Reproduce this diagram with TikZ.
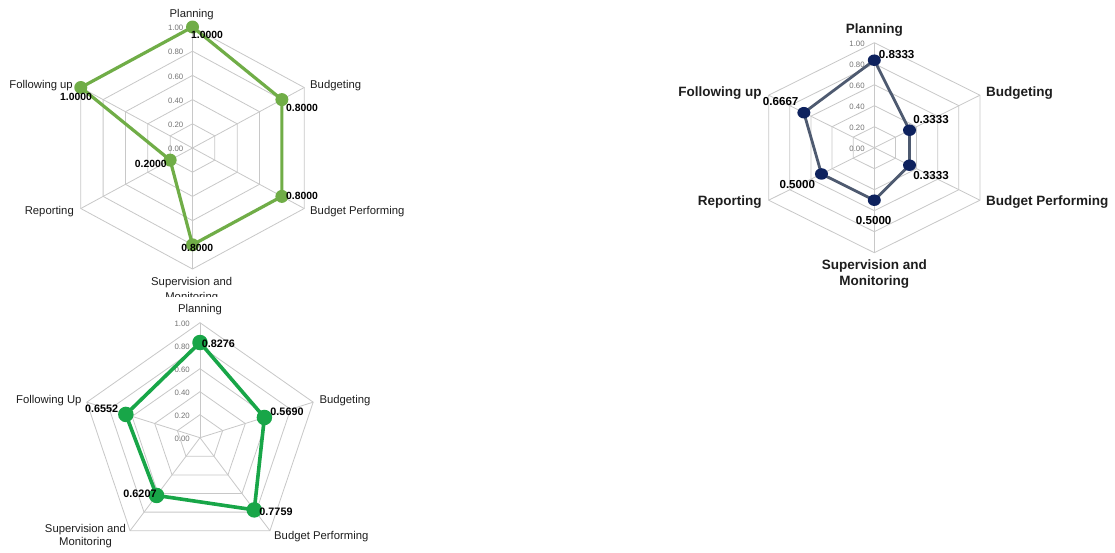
\documentclass[tikz,border=0pt]{standalone}
\usepackage{fontspec}
\setmainfont{Liberation Sans}
\usetikzlibrary{shapes.geometric}
\definecolor{gridgray}{RGB}{200,200,200}
\definecolor{tickgray}{RGB}{115,115,115}
\definecolor{txt}{RGB}{30,30,30}
\definecolor{greenA}{RGB}{112,173,71}
\definecolor{navyB}{RGB}{14,34,94}
\definecolor{slateB}{RGB}{78,90,112}
\definecolor{greenC}{RGB}{24,166,72}
\newcommand\radargrid[5]{%
  \foreach \rr in {0.2,0.4,0.6,0.8,1.0}{%
    \draw[gridline] ({#1+#3*\rr*cos(90)},{#2-#4*\rr*sin(90)})
      \foreach \kk in {1,...,#5}{ -- ({#1+#3*\rr*cos(90-\kk*360/#5)},{#2-#4*\rr*sin(90-\kk*360/#5)}) } -- cycle;
  }%
  \foreach \kk in {1,...,#5}{%
    \draw[gridline] (#1,#2) -- ({#1+#3*cos(90-\kk*360/#5)},{#2-#4*sin(90-\kk*360/#5)});
  }%
}
\newcommand\radarticks[4]{% cx cy ry xoffset
  \foreach \vv/\tt [count=\ii] in {0/0.00,0.2/0.20,0.4/0.40,0.6/0.60,0.8/0.80,1/1.00}{%
    \node[ticklab] (tk#1-\ii) at ({#1-#4},{#2-#3*\vv+1}) {\tt};
  }%
}
\begin{document}
\begin{tikzpicture}[x=1pt,y=-1pt,
  gridline/.style={draw=gridgray,line width=0.8pt},
  ticklab/.style={anchor=east,inner sep=0pt,text=tickgray,font=\fontsize{7.8}{9}\selectfont},
  lab/.style={inner sep=0pt,text=txt,font=\fontsize{11.3}{13}\selectfont},
  labB/.style={inner sep=0pt,text=txt,font=\fontsize{13.5}{16}\selectfont\bfseries},
  valA/.style={inner sep=0pt,text=black,font=\fontsize{10.4}{12}\selectfont\bfseries},
  valB/.style={inner sep=0pt,text=black,font=\fontsize{11.6}{13}\selectfont\bfseries},
  valC/.style={inner sep=0pt,text=black,font=\fontsize{10.8}{12}\selectfont\bfseries},
  lineA/.style={draw=greenA,line width=3.2pt,line join=round},
  lineB/.style={draw=slateB,line width=2.8pt,line join=round},
  lineC/.style={draw=greenC,line width=3.6pt,line join=round},
  dotA/.style={circle,fill=greenA,inner sep=0pt,minimum size=13pt},
  dotB/.style={ellipse,fill=navyB,inner sep=0pt,minimum width=13pt,minimum height=11.5pt},
  dotC/.style={circle,fill=greenC,inner sep=0pt,minimum size=15.5pt}]
\useasboundingbox[fill=white] (0,0) rectangle (1115,552);

% ===================== Chart A (top left, hexagon) =====================
\def\cx{192.5}\def\cy{148}\def\rx{129}\def\ry{121}
\radargrid{\cx}{\cy}{\rx}{\ry}{6}
\radarticks{192.5}{148}{121}{9}
\coordinate (pA1) at ({\cx+\rx*1.0*cos(90)},{\cy-\ry*1.0*sin(90)});
\coordinate (pA2) at ({\cx+\rx*0.8*cos(30)},{\cy-\ry*0.8*sin(30)});
\coordinate (pA3) at ({\cx+\rx*0.8*cos(-30)},{\cy-\ry*0.8*sin(-30)});
\coordinate (pA4) at ({\cx+\rx*0.8*cos(-90)},{\cy-\ry*0.8*sin(-90)});
\coordinate (pA5) at ({\cx+\rx*0.2*cos(-150)},{\cy-\ry*0.2*sin(-150)});
\coordinate (pA6) at ({\cx+\rx*1.0*cos(150)},{\cy-\ry*1.0*sin(150)});
\draw[lineA] (pA1) -- (pA2) -- (pA3) -- (pA4) -- (pA5) -- (pA6) -- cycle;
\foreach \i in {1,...,6}{\node[dotA] (dA\i) at (pA\i) {};}
\node[lab] (lA1) at (191.7,15) {Planning};
\node[lab,anchor=west] (lA2) at (310,86) {Budgeting};
\node[lab,anchor=west] (lA3) at (310,212) {Budget Performing};
\node[lab] (lA4) at (191.7,283) {Supervision and};
\begin{scope}
  \clip (0,250) rectangle (400,296);
  \node[lab] (lA4b) at (191.7,297.4) {Monitoring};
\end{scope}
\node[lab,anchor=east] (lA5) at (74,212) {Reporting};
\node[lab,anchor=east] (lA6) at (73,86) {Following up};
\node[valA] (vA1) at (207,35) {1.0000};
\node[valA] (vA2) at (302,108.3) {0.8000};
\node[valA] (vA3) at (302,196) {0.8000};
\node[valA] (vA4) at (197.3,248) {0.8000};
\node[valA] (vA5) at (150.8,164) {0.2000};
\node[valA] (vA6) at (76,97) {1.0000};

% ===================== Chart B (top right, hexagon) =====================
\def\cx{874.3}\def\cy{147.7}\def\rx{122}\def\ry{105}
\radargrid{\cx}{\cy}{\rx}{\ry}{6}
\radarticks{874.3}{147.7}{105}{9.5}
\coordinate (pB1) at ({\cx+\rx*0.8333*cos(90)},{\cy-\ry*0.8333*sin(90)});
\coordinate (pB2) at ({\cx+\rx*0.3333*cos(30)},{\cy-\ry*0.3333*sin(30)});
\coordinate (pB3) at ({\cx+\rx*0.3333*cos(-30)},{\cy-\ry*0.3333*sin(-30)});
\coordinate (pB4) at ({\cx+\rx*0.5*cos(-90)},{\cy-\ry*0.5*sin(-90)});
\coordinate (pB5) at ({\cx+\rx*0.5*cos(-150)},{\cy-\ry*0.5*sin(-150)});
\coordinate (pB6) at ({\cx+\rx*0.6667*cos(150)},{\cy-\ry*0.6667*sin(150)});
\draw[lineB] (pB1) -- (pB2) -- (pB3) -- (pB4) -- (pB5) -- (pB6) -- cycle;
\foreach \i in {1,...,6}{\node[dotB] (dB\i) at (pB\i) {};}
\node[labB] (lB1) at (874.3,30) {Planning};
\node[labB,anchor=west] (lB2) at (986,93.3) {Budgeting};
\node[labB,anchor=west] (lB3) at (986,201.7) {Budget Performing};
\node[labB,align=center] (lB4) at (874.3,274.2) {Supervision and\\[0.5pt]Monitoring};
\node[labB,anchor=east] (lB5) at (761.7,201.7) {Reporting};
\node[labB,anchor=east] (lB6) at (761.7,93.3) {Following up};
\node[valB] (vB1) at (896.7,55) {0.8333};
\node[valB] (vB2) at (931,119.3) {0.3333};
\node[valB] (vB3) at (931,175.7) {0.3333};
\node[valB] (vB4) at (873.7,220.7) {0.5000};
\node[valB] (vB5) at (797.3,184.3) {0.5000};
\node[valB] (vB6) at (780.7,101.7) {0.6667};

% ===================== Chart C (bottom left, pentagon) =====================
\def\cx{200}\def\cy{437.7}\def\rx{119}\def\ry{115}
\radargrid{\cx}{\cy}{\rx}{\ry}{5}
\radarticks{200}{437.7}{115}{10}
\coordinate (pC1) at ({\cx+\rx*0.8276*cos(90)},{\cy-\ry*0.8276*sin(90)});
\coordinate (pC2) at ({\cx+\rx*0.5690*cos(18)},{\cy-\ry*0.5690*sin(18)});
\coordinate (pC3) at ({\cx+\rx*0.7759*cos(-54)},{\cy-\ry*0.7759*sin(-54)});
\coordinate (pC4) at ({\cx+\rx*0.6207*cos(-126)},{\cy-\ry*0.6207*sin(-126)});
\coordinate (pC5) at ({\cx+\rx*0.6552*cos(162)},{\cy-\ry*0.6552*sin(162)});
\draw[lineC] (pC1) -- (pC2) -- (pC3) -- (pC4) -- (pC5) -- cycle;
\foreach \i in {1,...,5}{\node[dotC] (dC\i) at (pC\i) {};}
\node[lab] (lC1) at (200,309.3) {Planning};
\node[lab,anchor=west] (lC2) at (319.3,401) {Budgeting};
\node[lab,anchor=west] (lC3) at (274,536.7) {Budget Performing};
\node[lab,align=center] (lC4) at (85.5,536) {Supervision and\\[0.5pt]Monitoring};
\node[lab,anchor=east] (lC5) at (81.7,401) {Following Up};
\node[valC] (vC1) at (218.3,344) {0.8276};
\node[valC] (vC2) at (287,411.7) {0.5690};
\node[valC] (vC3) at (276,511.7) {0.7759};
\node[valC] (vC4) at (140,494) {0.6207};
\node[valC] (vC5) at (101.7,409) {0.6552};
\end{tikzpicture}
\end{document}
